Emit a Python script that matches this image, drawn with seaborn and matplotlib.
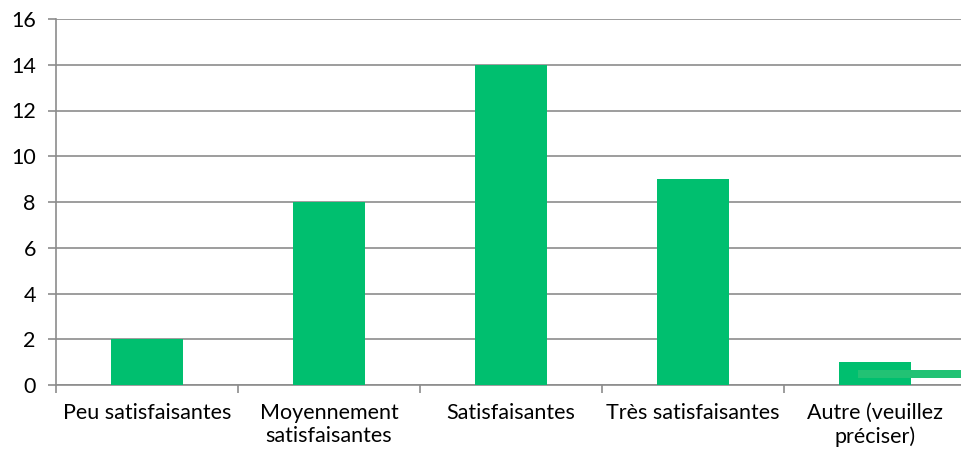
import matplotlib
matplotlib.use("Agg")
import matplotlib.pyplot as plt
import seaborn as sns
import pandas as pd
import numpy as np
from matplotlib.ticker import FixedLocator

categories = ["Peu satisfaisantes", "Moyennement\nsatisfaisantes", "Satisfaisantes",
              "Très satisfaisantes", "Autre (veuillez\npréciser)"]
values = [2, 8, 14, 9, 1]
y_ticks = [0, 2, 4, 6, 8, 10, 12, 14, 16]

sns.set_theme(style="white")
plt.rcParams['font.family'] = ['Lato', 'DejaVu Sans']

W, H = 961, 453
fig = plt.figure(figsize=(W / 100, H / 100), dpi=100)
left, right, top, bottom = 56, 966, 19, 385
ax = fig.add_axes([left / W, (H - bottom) / H, (right - left) / W, (bottom - top) / H])

df = pd.DataFrame({"cat": categories, "val": values})
sns.barplot(data=df, x="cat", y="val", color="#00BF6F", width=0.4, saturation=1, ax=ax,
            zorder=3, linewidth=0, edgecolor="none")

# stray strip seen in the reference (lighter green band on last bar)
ax.barh(y=0.485, width=1.0, left=3.907, height=0.35, color="#22C274", zorder=4,
        linewidth=0, edgecolor="none")

ax.set_xlim(-0.5, 4.5)
ax.set_ylim(0, 16)
ax.set_yticks(y_ticks)
ax.set_xlabel("")
ax.set_ylabel("")
grid_c = "#8C8C8C"
ax.yaxis.grid(True, color=grid_c, linewidth=1.2, zorder=0)
ax.set_axisbelow(True)
for s in ["top", "right"]:
    ax.spines[s].set_visible(False)
for s in ["left", "bottom"]:
    ax.spines[s].set_color(grid_c)
    ax.spines[s].set_linewidth(1.2)
ax.tick_params(axis="y", length=5.5, width=1.2, color=grid_c, labelsize=15.5, pad=9, left=True)
ax.tick_params(axis="x", which="major", length=0, labelsize=15.5, pad=13)
ax.xaxis.set_minor_locator(FixedLocator(np.arange(-0.5, 4.6, 1.0)))
ax.tick_params(axis="x", which="minor", length=6, width=1.2, color=grid_c, bottom=True)
for lbl in ax.get_xticklabels() + ax.get_yticklabels():
    lbl.set_color("#000000")
for lbl in ax.get_xticklabels():
    lbl.set_linespacing(1.2)

fig.savefig("out.png", dpi=100)
